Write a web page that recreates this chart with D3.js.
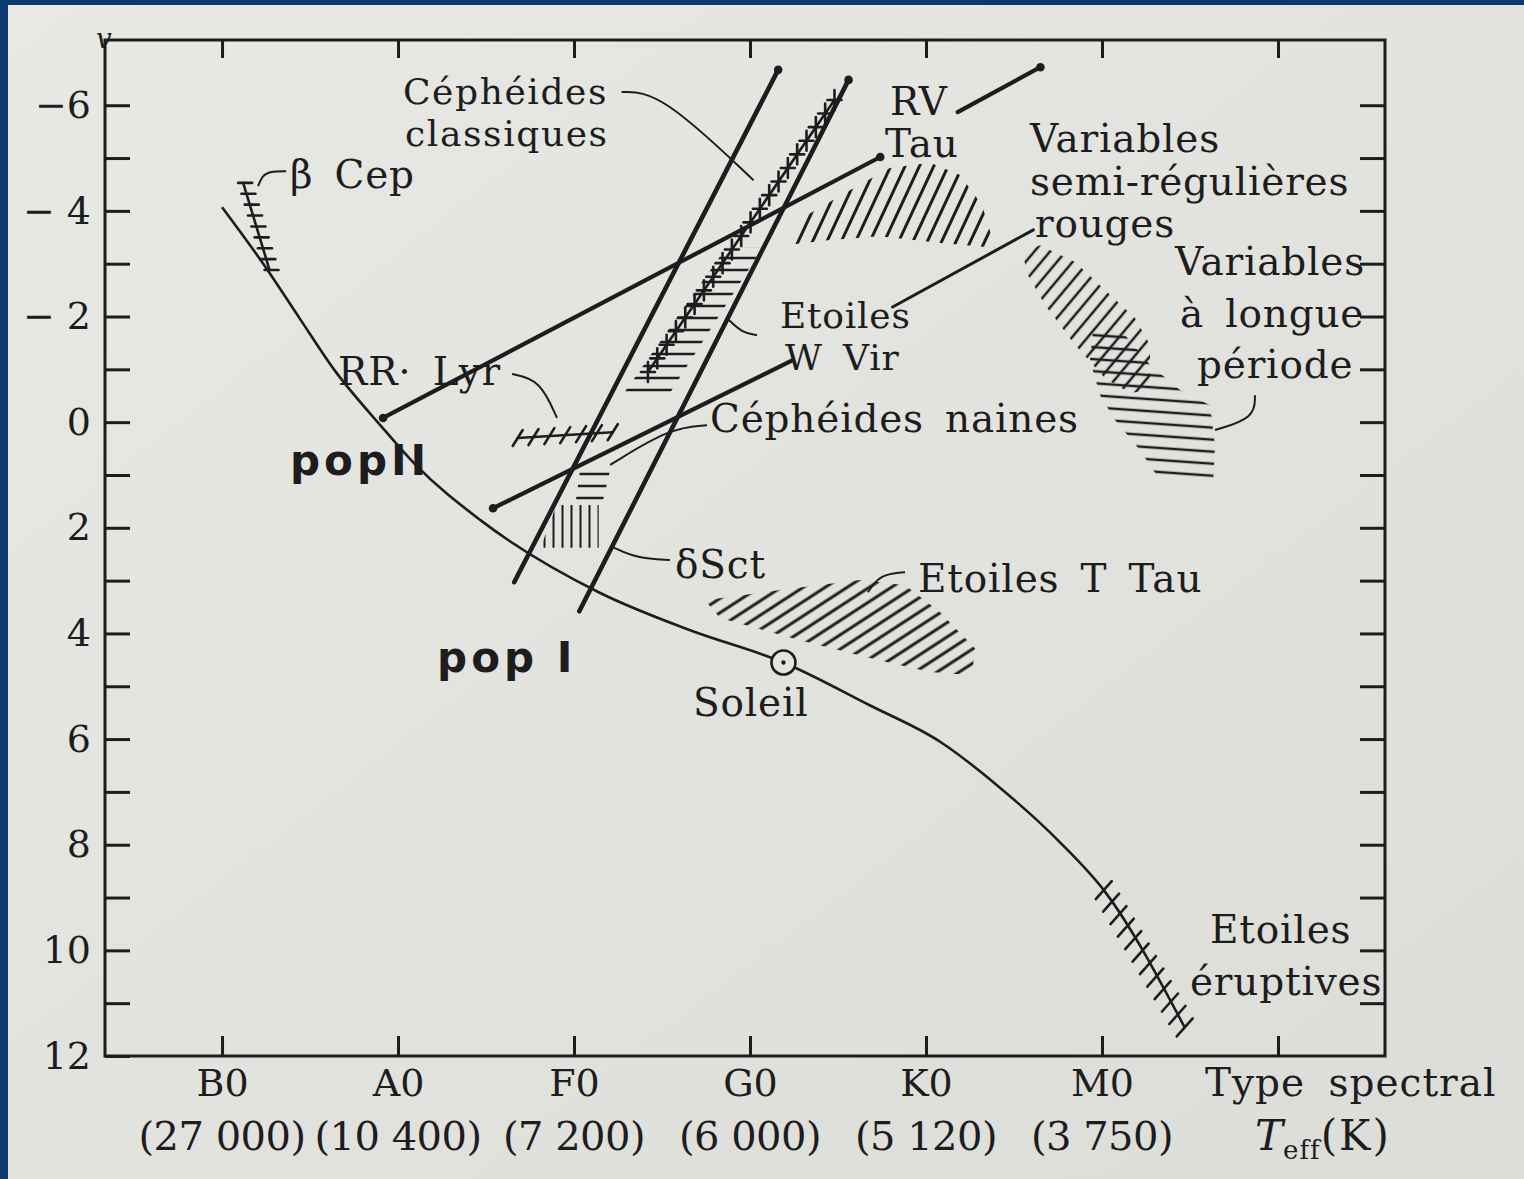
<!DOCTYPE html>
<html>
<head>
<meta charset="utf-8">
<script src="https://cdn.jsdelivr.net/npm/d3@7"></script>
<style>
  html, body { margin: 0; padding: 0; background: #e3e3e0; }
  svg { display: block; }
</style>
</head>
<body>
<script>
// x is the spectral class index (B0 = 0, A0 = 1, ...), y is the absolute magnitude M_v
const spectralTypes = ['B0', 'A0', 'F0', 'G0', 'K0', 'M0', ''];
const temperatures = ['(27 000)', '(10 400)', '(7 200)', '(6 000)', '(5 120)', '(3 750)', ''];
const magTicks = [-6, -4, -2, 0, 2, 4, 6, 8, 10, 12];
const magTickLabels = ['−6', '− 4', '− 2', '0', '2', '4', '6', '8', '10', '12'];

// main sequence
const mainSequence = [
  [0.00, -4.07], [0.24, -2.97], [0.44, -1.97], [0.64, -0.98], [0.90, 0.06],
  [1.10, 0.81], [1.47, 1.86], [2.14, 3.22], [2.66, 3.94], [3.19, 4.55],
  [3.68, 5.36], [4.08, 6.05], [4.42, 6.92], [4.76, 7.95], [5.01, 8.86], [5.47, 11.46]
];
const sun = [3.19, 4.55];
const eruptiveRail = [[5.01, 8.86], [5.47, 11.46]];
const betaCepRail = [[0.12, -4.53], [0.27, -2.88]];
const rrLyrRail = [[1.68, 0.30], [2.22, 0.19]];
const classicalCephRail = [[3.48, -6.10], [2.42, -0.95]];

// instability strip (pop I) and pop II sequences
const stripLeft = [[3.16, -6.67], [1.66, 3.03]];
const stripRight = [[3.56, -6.48], [2.03, 3.58]];
const popIIUpper = [[0.915, -0.08], [3.74, -5.02]];
const popIILower = [[1.54, 1.63], [3.24, -1.17]];
const rvTau = [[4.18, -5.87], [4.65, -6.72]];
const semiRegLine = [[3.81, -2.18], [4.61, -3.64]];

// hatched zones
const wVirZone = [[2.864, -3.30], [3.070, -3.30], [2.545, -0.55], [2.284, -0.55]];
const dSctDashes = [[2.034, 0.91], [2.205, 0.91], [2.165, 1.48], [2.011, 1.48]];
const dSctBars = [[1.90, 1.57], [2.14, 1.57], [2.14, 2.38], [1.81, 2.38]];
const semiRegZone = [
  [3.199, -3.35], [3.256, -3.79], [3.568, -4.39], [3.795, -4.81], [4.023, -4.91], [4.193, -4.68],
  [4.318, -4.11], [4.392, -3.30], [4.080, -3.39], [3.739, -3.52], [3.455, -3.45]
];
const lpvDiag = [
  [4.545, -3.22], [4.648, -3.35], [4.847, -3.03], [5.017, -2.50], [5.188, -1.97], [5.273, -1.46],
  [5.273, -0.61], [5.159, -0.55], [5.017, -0.83], [4.847, -1.46], [4.676, -2.22], [4.580, -2.78]
];
const lpvHoriz = [
  [4.949, -1.74], [5.131, -1.65], [5.273, -1.08], [5.443, -0.61], [5.614, -0.32], [5.642, 0.44],
  [5.631, 1.19], [5.330, 1.10], [5.216, 0.53], [5.074, -0.04], [4.989, -0.51], [4.932, -1.17]
];
const tTauZone = [
  [2.744, 3.37], [3.170, 3.18], [3.625, 2.99], [3.881, 3.09], [4.080, 3.60], [4.278, 4.28],
  [4.261, 4.79], [4.023, 4.73], [3.739, 4.51], [3.284, 4.13], [2.830, 3.71]
];

// leader lines
const leaders = [
  [[2.27, -6.25], [2.49, -6.25], [3.02, -4.58]],
  [[0.205, -4.47], [0.227, -4.66], [0.273, -4.75], [0.364, -4.75]],
  [[1.648, -0.91], [1.807, -0.80], [1.903, -0.08]],
  [[2.205, 0.81], [2.545, 0.11], [2.756, 0.06]],
  [[3.040, -1.65], [2.955, -1.69], [2.869, -1.97]],
  [[2.222, 2.37], [2.358, 2.58], [2.545, 2.61]],
  [[3.881, 2.84], [3.739, 2.88], [3.670, 3.22]],
  [[5.869, -0.51], [5.869, -0.08], [5.642, 0.15]]
];

// labels: text, anchor [spectral index, M_v]
const labels = [
  ['Céphéides', 1.028, -6.03], ['classiques', 1.040, -5.22],
  ['RV', 3.795, -5.81], ['Tau', 3.767, -5.02],
  ['Variables', 4.591, -5.11], ['semi-régulières', 4.591, -4.30], ['rouges', 4.619, -3.50],
  ['Variables', 5.415, -2.78], ['à longue', 5.443, -1.80], ['période', 5.540, -0.83],
  ['Etoiles', 3.170, -1.78], ['W Vir', 3.199, -0.98],
  ['Céphéides naines', 2.773, 0.19],
  ['RR· Lyr', 0.659, -0.70],
  ['β Cep', 0.386, -4.43],
  ['δSct', 2.574, 2.95],
  ['Etoiles T Tau', 3.955, 3.22],
  ['Soleil', 2.676, 5.57],
  ['Etoiles', 5.614, 9.87], ['éruptives', 5.500, 10.85]
];
const popLabels = [['popII', 0.386, 1.00], ['pop I', 1.222, 4.73]];
const tightLabels = ['Céphéides', 'classiques', 'Etoiles', 'W Vir'];

const W = 1524, H = 1179;
const ink = '#1d1d1d';
const serif = 'DejaVu Serif';
const margin = { top: 40, right: 139, bottom: 123, left: 105 };

const x = d3.scaleLinear().domain([-0.665, 6.608]).range([margin.left, W - margin.right]);
const y = d3.scaleLinear().domain([-7.235, 12]).range([margin.top, H - margin.bottom]);
const P = d => [x(d[0]), y(d[1])];

const svg = d3.select('body').append('svg').attr('width', W).attr('height', H);
const defs = svg.append('defs');

const paper = defs.append('linearGradient').attr('id', 'paper').attr('x1', 0).attr('x2', 1).attr('y1', 0).attr('y2', 1);
paper.append('stop').attr('offset', 0).attr('stop-color', '#e8e8e5');
paper.append('stop').attr('offset', 1).attr('stop-color', '#dcdcd9');
svg.append('rect').attr('width', W).attr('height', H).attr('fill', 'url(#paper)');
// blue edge of the photo
svg.append('rect').attr('width', W).attr('height', 5).attr('fill', '#0b3a72');
svg.append('rect').attr('width', 8).attr('height', H).attr('fill', '#0b3a72');

function hatch(id, angle, spacing, sw) {
  defs.append('pattern')
    .attr('id', id)
    .attr('patternUnits', 'userSpaceOnUse')
    .attr('width', 40).attr('height', spacing)
    .attr('patternTransform', `rotate(${-angle})`)
    .append('line')
    .attr('x1', 0).attr('x2', 40)
    .attr('y1', spacing / 2).attr('y2', spacing / 2)
    .attr('stroke', ink).attr('stroke-width', sw);
}
hatch('hSemi', 65, 13, 3);
hatch('hLpv', 50, 12, 2.6);
hatch('hTtau', 33, 12, 2.8);
hatch('hHoriz', -4, 12, 2.6);
hatch('hWvir', 0, 12, 2.6);
hatch('hVert', 90, 9, 2.2);

const plot = svg.append('g');

// axes
const yLeft = d3.axisLeft(y)
  .tickValues(d3.range(-6, 13))
  .tickSize(-25).tickSizeOuter(0).tickPadding(14)
  .tickFormat(d => { const i = magTicks.indexOf(d); return i < 0 ? '' : magTickLabels[i]; });
const yRight = d3.axisRight(y).tickValues(d3.range(-6, 12)).tickSize(-25).tickSizeOuter(0).tickFormat('');
const xTop = d3.axisTop(x).tickValues(d3.range(0, 7)).tickSize(-18).tickSizeOuter(0).tickFormat('');
const xBottom = d3.axisBottom(x).tickValues(d3.range(0, 7)).tickSize(-20).tickSizeOuter(0).tickPadding(13)
  .tickFormat((d, i) => spectralTypes[i]);

function styleAxis(g) {
  g.select('.domain').remove();
  g.selectAll('line').attr('stroke', ink).attr('stroke-width', 3);
  g.selectAll('text').attr('font-family', serif).attr('font-size', 38).attr('fill', ink);
}
plot.append('g').attr('transform', `translate(${margin.left},0)`).call(yLeft).call(styleAxis);
plot.append('g').attr('transform', `translate(${W - margin.right},0)`).call(yRight).call(styleAxis);
plot.append('g').attr('transform', `translate(0,${margin.top})`).call(xTop).call(styleAxis);
plot.append('g').attr('transform', `translate(0,${H - margin.bottom})`).call(xBottom).call(styleAxis);

plot.append('rect')
  .attr('x', margin.left).attr('y', margin.top)
  .attr('width', W - margin.left - margin.right)
  .attr('height', H - margin.top - margin.bottom)
  .attr('fill', 'none').attr('stroke', ink).attr('stroke-width', 3);

plot.append('g').selectAll('text').data(temperatures).join('text')
  .attr('x', (d, i) => x(i)).attr('y', 1150)
  .attr('text-anchor', 'middle')
  .attr('font-family', serif).attr('font-size', 40).attr('fill', ink)
  .attr('letter-spacing', -0.5)
  .text(d => d);

plot.append('text').attr('x', 1205).attr('y', 1096)
  .attr('font-family', serif).attr('font-size', 39).attr('fill', ink)
  .attr('letter-spacing', 1).attr('word-spacing', 10)
  .text('Type spectral');
const teff = plot.append('text').attr('x', 1255).attr('y', 1150)
  .attr('font-family', serif).attr('font-size', 42).attr('fill', ink);
teff.append('tspan').attr('font-style', 'italic').text('T');
teff.append('tspan').attr('font-size', 26).attr('dy', 9).attr('letter-spacing', 1).text('eff');
teff.append('tspan').attr('dy', -9).attr('letter-spacing', 2).text('(K)');
plot.append('text').attr('x', 96).attr('y', 48)
  .attr('font-family', serif).attr('font-style', 'italic').attr('font-size', 28).attr('fill', ink)
  .text('v');

// hatched zones
const zone = d3.line().x(d => x(d[0])).y(d => y(d[1])).curve(d3.curveLinearClosed);
[[semiRegZone, 'hSemi'], [lpvDiag, 'hLpv'], [lpvHoriz, 'hHoriz'], [tTauZone, 'hTtau'],
 [wVirZone, 'hWvir'], [dSctDashes, 'hWvir'], [dSctBars, 'hVert']].forEach(([pts, pat]) => {
  plot.append('path').attr('d', zone(pts)).attr('fill', `url(#${pat})`).attr('stroke', 'none');
});

// main sequence
const curve = d3.line().x(d => x(d[0])).y(d => y(d[1])).curve(d3.curveMonotoneX);
plot.append('path').datum(mainSequence)
  .attr('d', curve).attr('fill', 'none').attr('stroke', ink).attr('stroke-width', 2.6);

// thick straight sequences
const seg = d3.line().x(d => x(d[0])).y(d => y(d[1]));
[[stripLeft, 4.6], [stripRight, 4.6], [popIIUpper, 4.2], [popIILower, 4.2], [rvTau, 4.2], [semiRegLine, 3]]
  .forEach(([pts, w]) => {
    plot.append('path').attr('d', seg(pts)).attr('fill', 'none')
      .attr('stroke', ink).attr('stroke-width', w).attr('stroke-linecap', 'round');
  });
[popIIUpper[0], popIIUpper[1], popIILower[0], rvTau[1], stripLeft[0], stripRight[0]].forEach(d => {
  plot.append('circle').attr('cx', x(d[0])).attr('cy', y(d[1])).attr('r', 4.3).attr('fill', ink);
});

// rails with cross ticks
function rail(pts, n, ticks, drawRail) {
  const g = plot.append('g').attr('stroke', ink).attr('stroke-width', 2.6).attr('stroke-linecap', 'round');
  const p0 = P(pts[0]), p1 = P(pts[1]);
  if (drawRail) g.append('line').attr('x1', p0[0]).attr('y1', p0[1]).attr('x2', p1[0]).attr('y2', p1[1]);
  const spots = d3.range(n).map(i => {
    const t = n === 1 ? 0.5 : i / (n - 1);
    return [p0[0] + (p1[0] - p0[0]) * t, p0[1] + (p1[1] - p0[1]) * t];
  });
  ticks.forEach(([a, b], k) => {
    g.selectAll(`line.t${k}`).data(spots).join('line').attr('class', `t${k}`)
      .attr('x1', d => d[0] + a[0]).attr('y1', d => d[1] + a[1])
      .attr('x2', d => d[0] + b[0]).attr('y2', d => d[1] + b[1]);
  });
}
rail(classicalCephRail, 21, [[[0, -10], [0, 10]], [[-7, 0], [7, 0]]], true);
rail(betaCepRail, 9, [[[-5, 0], [9, 0]]], true);
rail(rrLyrRail, 7, [[[-5, 8], [5, -8]]], true);
rail(eruptiveRail, 12, [[[-8, 9], [8, -9]]], false);

// sun
plot.append('circle').attr('cx', x(sun[0])).attr('cy', y(sun[1])).attr('r', 12)
  .attr('fill', '#e4e4e1').attr('stroke', ink).attr('stroke-width', 2.6);
plot.append('circle').attr('cx', x(sun[0])).attr('cy', y(sun[1])).attr('r', 2.2).attr('fill', ink);

// leaders
const lead = d3.line().x(d => x(d[0])).y(d => y(d[1])).curve(d3.curveBasis);
plot.append('g').selectAll('path').data(leaders).join('path')
  .attr('d', lead).attr('fill', 'none').attr('stroke', ink).attr('stroke-width', 2);

// labels
plot.append('g').selectAll('text').data(labels).join('text')
  .attr('x', d => x(d[1])).attr('y', d => y(d[2]))
  .attr('font-family', serif)
  .attr('font-size', d => tightLabels.includes(d[0]) && d[2] < 0 ? 36 : 39)
  .attr('letter-spacing', d => tightLabels.includes(d[0]) && d[2] < -4 ? 1.6 : 0.8)
  .attr('fill', ink)
  .attr('word-spacing', d => d[0].includes(' ') ? 8 : 0)
  .text(d => d[0]);
plot.append('g').selectAll('text').data(popLabels).join('text')
  .attr('x', d => x(d[1])).attr('y', d => y(d[2]))
  .attr('font-family', 'DejaVu Sans').attr('font-weight', 'bold').attr('font-size', 42)
  .attr('letter-spacing', 4).attr('fill', ink)
  .text(d => d[0]);
</script>
</body>
</html>
